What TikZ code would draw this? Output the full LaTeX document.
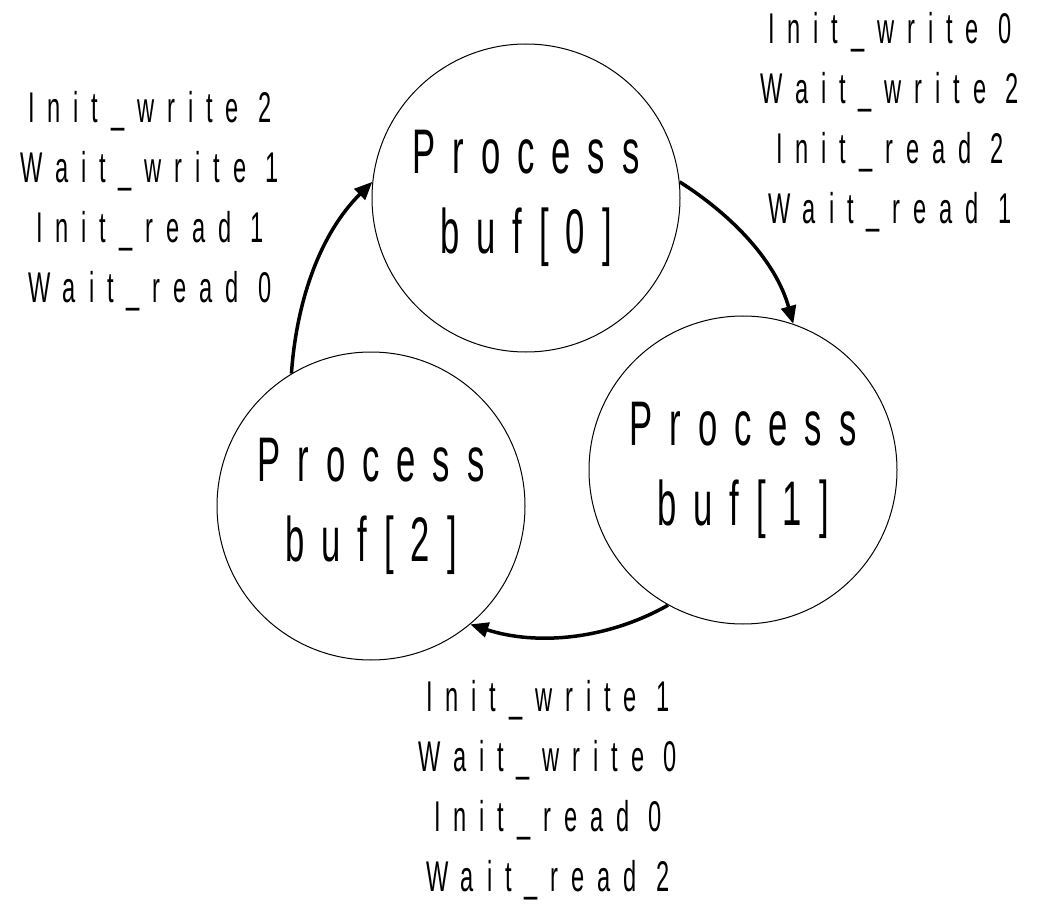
\documentclass[tikz,border=0pt]{standalone}
\usepackage{fontspec}
\usetikzlibrary{arrows.meta}
\newfontfamily\procfont[FakeStretch=0.55,LetterSpace=27]{Liberation Sans}
\newfontfamily\labfont[FakeStretch=0.55,LetterSpace=30]{Liberation Sans}
\begin{document}
\begin{tikzpicture}[x=1pt,y=-1pt,
  proc/.style={circle,draw,line width=1pt,minimum size=308pt,inner sep=0pt,align=center,
    font=\procfont\fontsize{63}{80}\selectfont},
  lab/.style={align=center,inner sep=0pt,font=\labfont\fontsize{43}{60}\selectfont},
  arr/.style={line width=3.5pt,-{Triangle[length=18pt,width=15pt]}}]
\useasboundingbox (0,0) rectangle (1037,904);
\node[proc] (b0) at (526,198) {Process\\buf[0]};
\node[proc] (b1) at (743,470) {Process\\buf[1]};
\node[proc] (b2) at (371,506) {Process\\buf[2]};
\draw[arr] (b0.6) to[out=-32.5,in=105.5,looseness=0.9] (b1.71.6);
\draw[arr] (b1.241) to[out=-150.5,in=-18,looseness=0.9] (b2.310);
\draw[arr] (b2.121) to[out=86,in=224.7,looseness=0.9] (b0.174);
\node[lab] (l0) at (150,201) {Init\_write 2\\Wait\_write 1\\Init\_read 1\\Wait\_read 0};
\node[lab] (l1) at (890,122) {Init\_write 0\\Wait\_write 2\\Init\_read 2\\Wait\_read 1};
\node[lab] (l2) at (548,790) {Init\_write 1\\Wait\_write 0\\Init\_read 0\\Wait\_read 2};
\end{tikzpicture}
\end{document}
